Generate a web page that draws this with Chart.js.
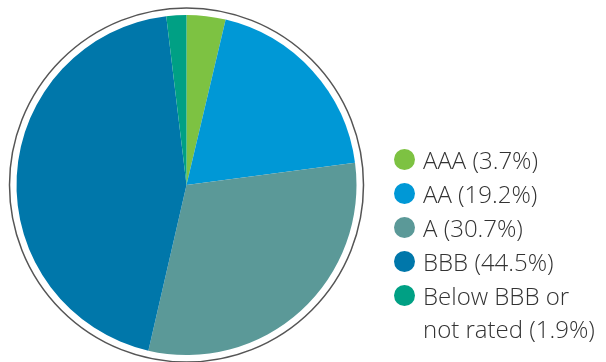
<!DOCTYPE html>
<html>
<head>
<meta charset="utf-8">
<script src="https://cdn.jsdelivr.net/npm/chart.js@4/dist/chart.umd.min.js"></script>
<style>
  html, body { margin: 0; padding: 0; background: #fff; }
  .wrap { position: relative; width: 606px; height: 362px; }
  #legend { position: absolute; left: 394px; top: 143px; margin: 0; padding: 0; list-style: none;
    font-family: "Open Sans", sans-serif; font-weight: 300; font-size: 24px; color: #333; }
  #legend li { position: relative; padding-left: 29px; line-height: 33px; height: 34px; white-space: nowrap; }
  #legend li.two { height: auto; }
  #legend li span.dot { position: absolute; left: 0; top: 6px; width: 21px; height: 21px; border-radius: 50%; }
</style>
</head>
<body>
<div class="wrap">
  <canvas id="pie" width="606" height="362"></canvas>
  <ul id="legend"></ul>
</div>
<script>
// data
const labels = ["AAA", "AA", "A", "BBB", "Below BBB or\nnot rated"];
const shares = [3.7, 19.2, 30.7, 44.5, 1.9];
const colors = ["#7dc242", "#0098d6", "#5b9998", "#0077aa", "#00a084"];

// thin ring drawn around the pie
const outerRing = {
    id: "outerRing",
    afterDatasetsDraw(chart) {
        const arc = chart.getDatasetMeta(0).data[0];
        if (!arc) return;
        const ctx = chart.ctx;
        ctx.save();
        ctx.beginPath();
        ctx.arc(arc.x, arc.y, arc.outerRadius + 7, 0, Math.PI * 2);
        ctx.strokeStyle = "#555";
        ctx.lineWidth = 1.5;
        ctx.stroke();
        ctx.restore();
    }
};

const ctx = document.getElementById("pie").getContext("2d");
new Chart(ctx, {
    type: "pie",
    data: {
        labels: labels,
        datasets: [{
            data: shares,
            backgroundColor: colors,
            borderWidth: 0
        }]
    },
    options: {
        responsive: false,
        animation: false,
        layout: { padding: { left: 16, right: 249, top: 15, bottom: 7 } },
        plugins: {
            legend: { display: false },
            tooltip: { enabled: false }
        }
    },
    plugins: [outerRing]
});

// html legend
const legend = document.getElementById("legend");
labels.forEach((lab, i) => {
    const li = document.createElement("li");
    const parts = lab.split("\n");
    if (parts.length > 1) li.className = "two";
    li.innerHTML = `<span class="dot" style="background:${colors[i]}"></span>` +
        parts.join("<br>") + ` (${shares[i]}%)`;
    legend.appendChild(li);
});
</script>
</body>
</html>
